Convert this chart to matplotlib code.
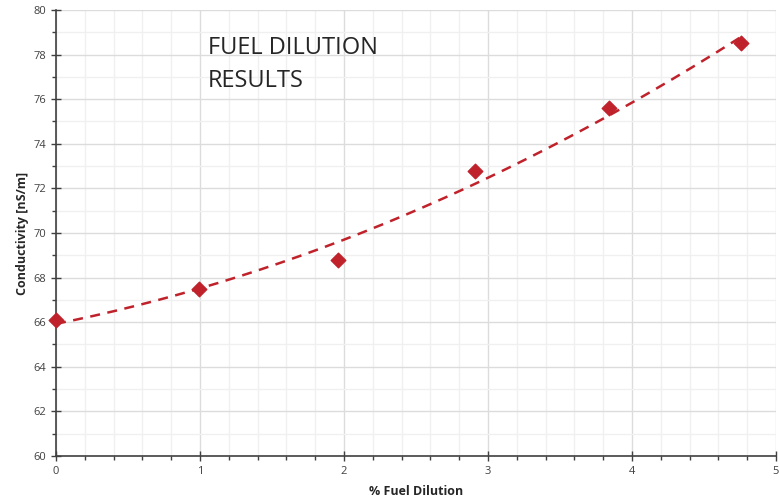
import numpy as np
import matplotlib
matplotlib.use("Agg")
import matplotlib.pyplot as plt
from matplotlib.ticker import MultipleLocator

dilution = [0.0, 0.99, 1.96, 2.91, 3.84, 4.76]
conductivity = [66.1, 67.5, 68.8, 72.8, 75.6, 78.5]

plt.rcParams['font.family'] = ['Open Sans', 'DejaVu Sans']

fig = plt.figure(figsize=(7.79, 4.99), dpi=100)
ax = fig.add_axes([0.0719, 0.0862, 0.9242, 0.8938])

ax.set_xlim(0, 5)
ax.set_ylim(60, 80)
ax.xaxis.set_major_locator(MultipleLocator(1))
ax.xaxis.set_minor_locator(MultipleLocator(0.2))
ax.yaxis.set_major_locator(MultipleLocator(2))
ax.yaxis.set_minor_locator(MultipleLocator(1))

ax.grid(which='major', color='#dcdcdc', linewidth=1.0)
ax.grid(which='minor', color='#f0f0f0', linewidth=1.0)
ax.set_axisbelow(True)

for s in ['top', 'right']:
    ax.spines[s].set_visible(False)
for s in ['left', 'bottom']:
    ax.spines[s].set_color('#404040')
    ax.spines[s].set_linewidth(1.2)

ax.tick_params(which='major', direction='inout', length=7, width=1, color='#404040',
               labelsize=8, labelcolor='#404040')
ax.tick_params(which='minor', direction='out', length=3, width=1, color='#404040')

# trendline (quadratic fit, like Excel polynomial trendline)
coef = np.polyfit(dilution, conductivity, 2)
xs = np.linspace(min(dilution), max(dilution), 200)
ax.plot(xs, np.polyval(coef, xs), linestyle=(0, (4, 3)), color='#c0222b', linewidth=1.8, zorder=3)

ax.scatter(dilution, conductivity, marker='D', s=55, color='#c0222b', zorder=4, clip_on=False)

ax.set_xlabel('% Fuel Dilution', fontsize=9, fontweight='bold', color='#262626', labelpad=6)
ax.set_ylabel('Conductivity [nS/m]', fontsize=9, fontweight='bold', color='#262626', labelpad=3)

ax.text(0.211, 0.942, 'FUEL DILUTION\nRESULTS', transform=ax.transAxes, fontsize=17,
        color='#262626', va='top', ha='left', linespacing=1.5)

fig.savefig('out.png', dpi=100)
